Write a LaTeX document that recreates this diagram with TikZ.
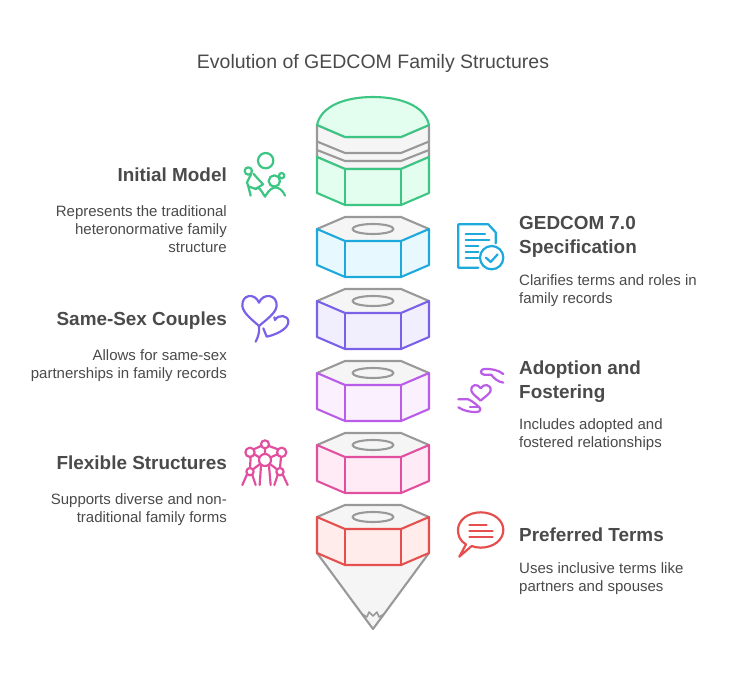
\documentclass[tikz,border=0pt]{standalone}
\usepackage{fontspec}
\setmainfont{Liberation Sans}
\definecolor{ink}{HTML}{4A4A4A}
\definecolor{gr}{HTML}{999999}
\definecolor{gf}{HTML}{F5F5F5}
\definecolor{cG}{HTML}{3CC583}\definecolor{fG}{HTML}{E3FDEF}
\definecolor{cB}{HTML}{1EA9DC}\definecolor{fB}{HTML}{E8F8FF}
\definecolor{cP}{HTML}{7B61E8}\definecolor{fP}{HTML}{F1EFFD}
\definecolor{cV}{HTML}{B95CE8}\definecolor{fV}{HTML}{FAF0FE}
\definecolor{cK}{HTML}{E0509F}\definecolor{fK}{HTML}{FEEBF6}
\definecolor{cR}{HTML}{E5504F}\definecolor{fR}{HTML}{FFECEB}
\tikzset{
 titletext/.style={inner sep=0pt,text=ink,font=\fontsize{19.5}{23}\selectfont},
 headR/.style={inner sep=0pt,anchor=north west,align=left,text=ink,font=\fontsize{18.9}{24}\selectfont\bfseries},
 headL/.style={inner sep=0pt,anchor=north east,align=right,text=ink,font=\fontsize{18.9}{24}\selectfont\bfseries},
 bodyR/.style={inner sep=0pt,anchor=north west,align=left,text=ink,font=\fontsize{15}{18}\selectfont},
 bodyL/.style={inner sep=0pt,anchor=north east,align=right,text=ink,font=\fontsize{15}{18}\selectfont},
 edge/.style={line width=2.1pt,line join=round,line cap=round},
 icon/.style={line width=2.2pt,line join=round,line cap=round},
}
% #1 top y, #2 stroke, #3 fill
\newcommand{\nutblock}[3]{%
 \fill[gf] (317,#1+12) -- (345,#1) -- (401,#1) -- (429,#1+12) -- (401,#1+24) -- (345,#1+24) -- cycle;
 \draw[edge,gr] (317,#1+12) -- (345,#1) -- (401,#1) -- (429,#1+12);
 \draw[edge,gr] (373,#1+12) ellipse [x radius=20.5,y radius=5];
 \draw[edge,#2,fill=#3] (317,#1+12) -- (345,#1+24) -- (401,#1+24) -- (429,#1+12) -- (429,#1+48) -- (401,#1+60) -- (345,#1+60) -- (317,#1+48) -- cycle;
 \draw[edge,#2] (345,#1+24) -- (345,#1+60) (401,#1+24) -- (401,#1+60);
}
\begin{document}
\begin{tikzpicture}[x=1pt,y=-1pt]
\useasboundingbox (0,0) rectangle (734,679);
\node[titletext] (title) at (373,63) {Evolution of GEDCOM Family Structures};

% top cap
\draw[edge,gr,fill=gf] (317,125) -- (317,157) -- (345,169) -- (401,169) -- (429,157) -- (429,125) -- (401,137) -- (345,137) -- cycle;
\draw[edge,gr] (317,141.5) -- (345,153) -- (401,153) -- (429,141.5);
\draw[edge,gr] (317,150) -- (345,161) -- (401,161) -- (429,150);
\draw[edge,cG,fill=fG] (317,125) .. controls (321,106) and (345,97) .. (373,97) .. controls (401,97) and (425,106) .. (429,125) -- (401,137) -- (345,137) -- cycle;
\draw[edge,cG,fill=fG] (317,157) -- (345,169) -- (401,169) -- (429,157) -- (429,193) -- (401,205) -- (345,205) -- (317,193) -- cycle;
\draw[edge,cG] (345,169) -- (345,205) (401,169) -- (401,205);

\nutblock{217}{cB}{fB}
\nutblock{289}{cP}{fP}
\nutblock{361}{cV}{fV}
\nutblock{433}{cK}{fK}

% tip
\draw[edge,gr,fill=gf] (317,553) -- (373,629) -- (429,553) -- cycle;
\draw[line width=1.5pt,gr,line join=round] (362,614) -- (367,617) -- (369,612) -- (373,616) -- (377,612) -- (379,617) -- (384,614);
\nutblock{505}{cR}{fR}

% left texts
\node[headL] (h1) at (227,168) {Initial Model};
\node[bodyL] (b1) at (227,205) {Represents the traditional\\heteronormative family\\structure};
\node[headL] (h2) at (227,312) {Same-Sex Couples};
\node[bodyL] (b2) at (227,349) {Allows for same-sex\\partnerships in family records};
\node[headL] (h3) at (227,456) {Flexible Structures};
\node[bodyL] (b3) at (227,493) {Supports diverse and non-\\traditional family forms};
% right texts
\node[headR] (h4) at (519,216.5) {GEDCOM 7.0\\Specification};
\node[bodyR] (b4) at (519,274) {Clarifies terms and roles in\\family records};
\node[headR] (h5) at (519,360.5) {Adoption and\\Fostering};
\node[bodyR] (b5) at (519,418) {Includes adopted and\\fostered relationships};
\node[headR] (h6) at (519,528) {Preferred Terms};
\node[bodyR] (b6) at (519,562) {Uses inclusive terms like\\partners and spouses};

% icon 1
\begin{scope}[shift={(235,145)},x=0.3333pt,y=-0.3333pt,icon,cG]
\draw (92,47) circle [radius=23];
\draw (40,78) circle [radius=11];
\draw (118,108) circle [radius=17];
\draw (140,92) circle [radius=8];
\draw (48,88) -- (36,112) -- (40,124) -- (47,152);
\draw (55,86) -- (84,118) -- (62,132) -- (40,124);
\draw (60,132) -- (70,128) .. controls (78,134) and (84,146) .. (90,155) .. controls (96,146) and (104,130) .. (120,127) .. controls (132,127) and (145,138) .. (150,152);
\end{scope}
% icon 2
\begin{scope}[shift={(450,215)},x=0.3333pt,y=-0.3333pt,icon,cB]
\draw (85,158) -- (25,158) -- (25,28) -- (115,28) -- (137,52) -- (137,85);
\draw (47,57) -- (105,57) (47,75) -- (118,75) (47,93) -- (85,93) (47,110) -- (85,110) (47,128) -- (85,128);
\draw (125,128) circle [radius=35];
\draw (108,128) -- (122,141) -- (143,118);
\end{scope}
% icon 3
\begin{scope}[shift={(235,290)},x=0.3333pt,y=-0.3333pt,icon,cP]
\draw (72,38) .. controls (60,8) and (20,12) .. (22,48) .. controls (24,70) and (55,92) .. (72,108) .. controls (90,92) and (123,70) .. (125,48) .. controls (127,12) and (84,8) .. (72,38) -- cycle;
\draw (72,108) .. controls (74,125) and (70,140) .. (62,155);
\draw (85,115) -- (95,140) .. controls (120,135) and (160,118) .. (160,95) .. controls (160,75) and (130,72) .. (120,90) -- (118,82);
\end{scope}
% icon 4
\begin{scope}[shift={(450,360)},x=0.3333pt,y=-0.3333pt,icon,cV]
\draw (92,85) .. controls (84,70) and (62,72) .. (64,92) .. controls (66,102) and (82,112) .. (92,122) .. controls (102,112) and (120,102) .. (122,92) .. controls (124,72) and (100,70) .. (92,85) -- cycle;
\draw (160,42) .. controls (145,30) and (125,26) .. (102,27) .. controls (90,28) and (90,43) .. (102,44) -- (124,44) .. controls (130,54) and (145,66) .. (160,68);
\draw (108,44) -- (124,44);
\draw (25,118) -- (55,118) .. controls (68,124) and (80,134) .. (88,142) .. controls (94,148) and (90,156) .. (80,156) .. controls (60,157) and (40,152) .. (25,142);
\draw (60,142) -- (86,142);
\end{scope}
% icon 5
\begin{scope}[shift={(235,435)},x=0.3333pt,y=-0.3333pt,icon,cK]
\draw (90,28) circle [radius=12];
\draw (45,52) circle [radius=14];
\draw (140,52) circle [radius=14];
\draw (90,75) circle [radius=18];
\draw (45,110) circle [radius=11];
\draw (135,110) circle [radius=11];
\draw (78,33) -- (56,43) (102,33) -- (129,43) (90,40) -- (90,57) (58,58) -- (73,67) (127,58) -- (107,67) (47,66) -- (45,99) (138,66) -- (135,99) (75,87) -- (54,103) (105,87) -- (126,103);
\draw (36,118) -- (22,150) (52,120) -- (62,150) (78,92) -- (74,150) (102,92) -- (107,150) (128,120) -- (118,150) (143,118) -- (158,150);
\end{scope}
% icon 6
\begin{scope}[shift={(450,505)},x=0.3333pt,y=-0.3333pt,icon,cR]
\draw (48,118) .. controls (30,108) and (24,92) .. (24,75) .. controls (24,45) and (55,22) .. (92,22) .. controls (130,22) and (160,45) .. (160,75) .. controls (160,105) and (130,128) .. (92,128) .. controls (82,128) and (72,126) .. (65,123) -- (28,155) -- cycle;
\draw (58,60) -- (110,60) (58,77) -- (128,77) (58,95) -- (128,95);
\end{scope}
\end{tikzpicture}
\end{document}
